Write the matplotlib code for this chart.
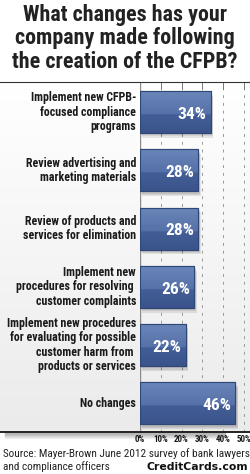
import matplotlib.pyplot as plt
import numpy as np
from matplotlib.patches import Rectangle
from matplotlib.colors import LinearSegmentedColormap

categories = [
    "Implement new CFPB-\nfocused compliance\nprograms",
    "Review advertising and\nmarketing materials",
    "Review of products and\nservices for elimination",
    "Implement new\nprocedures for resolving \ncustomer complaints",
    "Implement new procedures\nfor evaluating for possible\ncustomer harm from \nproducts or services",
    "No changes",
]
values = [34, 28, 28, 26, 22, 46]
ticks = [0, 10, 20, 30, 40, 50]
tick_labels = ["0%", "10%", "20%", "30%", "40%", "50%"]

title = "What changes has your\ncompany made following\nthe creation of the CFPB?"
source_lines = ["Source: Mayer-Brown June 2012 survey of bank lawyers", "and compliance officers"]
brand = "CreditCards.com"

W, H = 250, 474
fig = plt.figure(figsize=(W / 100, H / 100), dpi=100)
fig.patch.set_facecolor("white")
narrow = ["Roboto Condensed", "DejaVu Sans"]

box_top = 1 - 82 / H
box_bot = 1 - 432 / H

# background box with soft gradient
bg = fig.add_axes([0, box_bot, 1, box_top - box_bot])
bg.set_axis_off()
grad = np.linspace(0, 1, 256).reshape(-1, 1)
bg_cmap = LinearSegmentedColormap.from_list("bg", ["#ffffff", "#ebebeb"])
bg.imshow(grad, aspect="auto", cmap=bg_cmap, extent=[0, 1, 0, 1], origin="upper")
bg.set_xlim(0, 1)
bg.set_ylim(0, 1)

ax = fig.add_axes([140 / W, box_bot, 110 / W, box_top - box_bot])
ax.patch.set_alpha(0)
y = np.arange(len(values))
for s in ax.spines.values():
    s.set_visible(False)
ax.set_xticks([])
ax.set_yticks([])

# gridlines
for t in ticks[1:]:
    ax.axvline(t, color="#9a9a9a", lw=0.7, ls=(0, (3, 5)), zorder=1)
    ax.plot([t, t], [-0.515, -0.40], color="#777777", lw=0.7, zorder=1, clip_on=False)
ax.axvline(0, color="#8a8a8a", lw=1.0, zorder=2)

bh = 0.72
# shadows
for yi, v in zip(y, values):
    for k, a in enumerate([0.07, 0.07, 0.09]):
        off = 0.5 + k * 0.35
        ax.add_patch(Rectangle((off, yi - bh / 2 + 0.04 + k * 0.02), v + 0.3 - k * 0.1, bh,
                               color="black", alpha=a, lw=0, zorder=2))

bars = ax.barh(y, values, height=bh, color="#4d679c", edgecolor="#2f4676", lw=0.8, zorder=3)
bar_cmap = LinearSegmentedColormap.from_list(
    "bar", [(0, "#6a85b9"), (0.55, "#5571a7"), (0.56, "#435e96"), (1, "#3a548b")])
for b in bars:
    x0, y0, w, h = b.get_x(), b.get_y(), b.get_width(), b.get_height()
    im = ax.imshow(grad, aspect="auto", cmap=bar_cmap, extent=[x0, x0 + w, y0 + h, y0],
                   origin="upper", zorder=3.5)
    im.set_clip_path(b)
    ax.add_patch(Rectangle((x0, y0), w, h, fill=False, ec="#2f4676", lw=0.8, zorder=4))
ax.set_xlim(0, 53)
ax.set_ylim(5.49, -0.515)

for yi, v in zip(y, values):
    ax.text(v - 2.0, yi + 0.04, f"{v}%", ha="right", va="center", color="white",
            fontsize=12.5, fontweight="bold", family=narrow, zorder=5)

for yi, c in zip(y, categories):
    ax.text(-1.9, yi, c, ha="right", va="center", fontsize=8.6, fontweight="bold",
            family=narrow, color="#1a1a1a", linespacing=1.15, zorder=5)

for t, lab in zip(ticks, tick_labels):
    ax.text(t, 5.62, lab, ha="center", va="center", fontsize=6.5, fontweight="bold",
            family=narrow, color="#1a1a1a", clip_on=False)

# box lines
fig.add_artist(plt.Line2D([0, 1], [box_top, box_top], color="#333333", lw=0.8))
for k in range(6):
    fig.add_artist(plt.Line2D([0.02, 0.9], [box_bot - (k + 1) / H] * 2, color="black",
                              lw=1, alpha=0.25 - k * 0.04))
fig.add_artist(plt.Line2D([0, 1], [box_bot, box_bot], color="#222222", lw=1.4))

fig.text(0.5, 1 - 4 / H, title, ha="center", va="top", fontsize=15.8, fontweight="bold",
         family=narrow, color="#222222", linespacing=1.08)
fig.text(3 / W, 1 - 454 / H, source_lines[0], ha="left", va="center", fontsize=8.1,
         family=narrow, color="#222222")
fig.text(3 / W, 1 - 467 / H, source_lines[1], ha="left", va="center", fontsize=8.1,
         family=narrow, color="#222222")
fig.text(248 / W, 1 - 467 / H, brand, ha="right", va="center", fontsize=7.8, fontweight="bold",
         family="DejaVu Sans", color="#111111")

fig.savefig("out.png", dpi=100)
